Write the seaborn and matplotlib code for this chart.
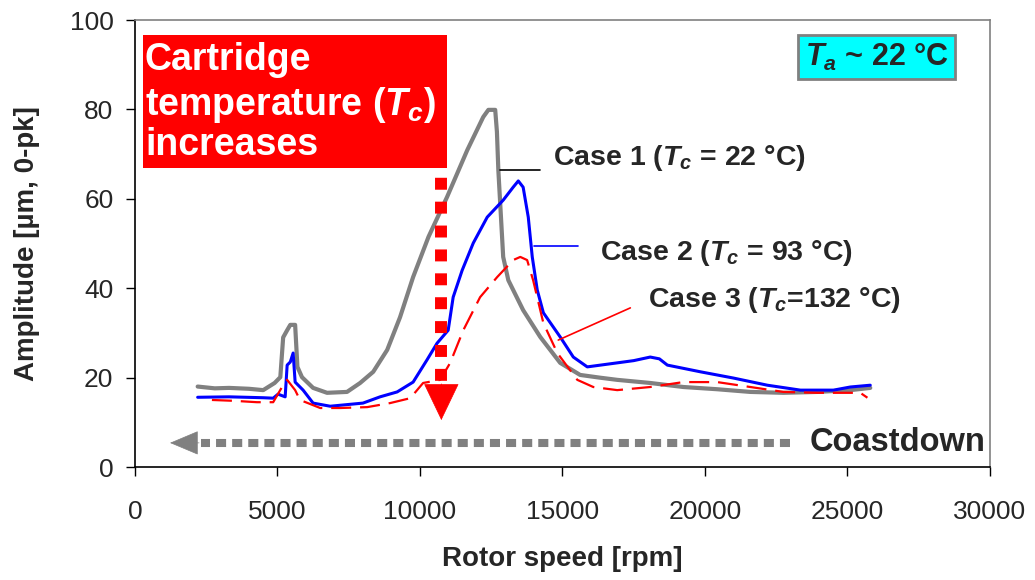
import matplotlib
matplotlib.use("Agg")
import matplotlib.pyplot as plt
from matplotlib.patches import Rectangle
import numpy as np
import pandas as pd
import seaborn as sns

# ---------------- data ----------------
case1_speed = [2200, 2800, 3300, 4000, 4500, 4900, 5100, 5200, 5340, 5450, 5620, 5700, 5860,
               6250, 6740, 7440, 7900, 8360, 8850, 9300, 9760, 10300, 10950, 11660, 12220,
               12400, 12640, 12700, 12750, 12920, 13100, 13620, 14220, 14920, 15620, 16300,
               16920, 18080, 19240, 20430, 21590, 22750, 23950, 25100, 25800]
case1_amp = [18.0, 17.6, 17.7, 17.5, 17.2, 18.8, 20.1, 29.0, 30.6, 31.8, 31.8, 22.4, 20.1,
             17.7, 16.6, 16.8, 18.8, 21.3, 26.2, 33.5, 42.5, 51.5, 60.4, 70.9, 78.3,
             79.9, 79.9, 75.0, 66.4, 47.0, 41.8, 35.1, 29.1, 23.3, 20.6, 20.0,
             19.5, 18.8, 17.9, 17.4, 16.8, 16.6, 16.8, 17.2, 17.7]

case2_speed = [2200, 3300, 4500, 4850, 5020, 5270, 5340, 5450, 5550, 5620, 5900, 6250, 6850,
               8000, 8600, 9200, 9760, 10250, 10600, 10990, 11165, 11480, 11870, 12360, 12920,
               13270, 13450, 13620, 13800, 13940, 14115, 14330, 14920, 15380, 15870, 16920,
               17500, 18080, 18400, 18680, 19840, 21000, 22190, 23350, 24510, 25100, 25800]
case2_amp = [15.6, 15.7, 15.5, 15.4, 16.3, 15.7, 22.8, 23.5, 25.5, 19.0, 17.2, 14.3, 13.6,
             14.3, 15.7, 16.8, 19.0, 24.0, 27.7, 30.6, 38.0, 44.0, 50.1, 55.9, 59.7,
             62.6, 64.0, 62.6, 55.9, 47.0, 39.6, 34.5, 29.1, 24.6, 22.4, 23.3,
             23.8, 24.6, 24.2, 22.8, 21.3, 19.9, 18.3, 17.2, 17.2, 17.9, 18.3]

case3_speed = [2700, 3500, 4280, 4850, 5160, 5340, 5620, 5790, 6500, 7200, 8150, 8950, 9660,
               10110, 10710, 11060, 11520, 12110, 12710, 13270, 13520, 13760, 13970, 14330,
               14820, 15520, 16080, 16920, 18080, 19240, 20430, 21590, 22750, 23950, 25450, 25700]
case3_amp = [15.0, 14.8, 14.5, 14.5, 17.9, 19.5, 17.2, 15.0, 13.2, 13.2, 13.4, 14.3, 15.4,
             18.8, 19.5, 23.3, 30.6, 38.0, 42.5, 46.3, 47.0, 46.3, 41.8, 32.2,
             25.5, 19.5, 17.9, 17.2, 17.9, 19.0, 19.0, 17.9, 16.8, 16.6, 16.6, 15.5]

case_labels = [r"Case 1 ($T_c$ = 22 °C)", r"Case 2 ($T_c$ = 93 °C)", r"Case 3 ($T_c$=132 °C)"]
x_ticks = [0, 5000, 10000, 15000, 20000, 25000, 30000]
y_ticks = [0, 20, 40, 60, 80, 100]

# ---------------- style ----------------
sns.set_theme(style="white")
plt.rcParams["font.family"] = ["Liberation Sans", "DejaVu Sans"]
plt.rcParams["mathtext.fontset"] = "custom"
plt.rcParams["mathtext.rm"] = "Liberation Sans:bold"
plt.rcParams["mathtext.it"] = "Liberation Sans:bold:italic"
plt.rcParams["mathtext.bf"] = "Liberation Sans:bold"

fig = plt.figure(figsize=(10.35, 5.8), dpi=100)
ax = fig.add_axes([0.1304, 0.1948, 0.8261, 0.7707])

df1 = pd.DataFrame({"speed": case1_speed, "amp": case1_amp})
df2 = pd.DataFrame({"speed": case2_speed, "amp": case2_amp})
df3 = pd.DataFrame({"speed": case3_speed, "amp": case3_amp})

sns.lineplot(data=df1, x="speed", y="amp", ax=ax, color="#808080", lw=3.0,
             sort=False, estimator=None, zorder=3)
sns.lineplot(data=df2, x="speed", y="amp", ax=ax, color="#0000FF", lw=2.2,
             sort=False, estimator=None, zorder=4)
sns.lineplot(data=df3, x="speed", y="amp", ax=ax, color="#FF0000", lw=1.6,
             sort=False, estimator=None, zorder=5)
ax.lines[-1].set_dashes((9, 4))

ax.set_xlim(0, 30000)
ax.set_ylim(0, 100)
ax.set_xticks(x_ticks)
ax.set_yticks(y_ticks)
ax.set_xticklabels([str(v) for v in x_ticks], fontsize=19)
ax.set_yticklabels([str(v) for v in y_ticks], fontsize=19)
ax.tick_params(axis="both", direction="out", length=6.5, width=1, color="black",
               left=True, bottom=True)
ax.tick_params(axis="y", pad=9)
ax.tick_params(axis="x", pad=17)
ax.set_xlabel("Rotor speed [rpm]", fontsize=20, fontweight="bold", labelpad=16)
ax.set_ylabel("Amplitude [µm, 0-pk]", fontsize=20, fontweight="bold", labelpad=21)

for s in ["top", "right"]:
    ax.spines[s].set_color("#808080")
    ax.spines[s].set_linewidth(1.2)
for s in ["left", "bottom"]:
    ax.spines[s].set_color("black")
    ax.spines[s].set_linewidth(1.2)

# ---------------- annotations ----------------
# red box with text
ax.add_patch(Rectangle((281, 66.9), 10674, 29.7, facecolor="#FF0000", edgecolor="none", zorder=6))
ax.text(351, 91.05, "Cartridge", color="white", fontsize=27, fontweight="bold", va="center", ha="left", zorder=7)
ax.text(351, 81.0, r"temperature ($T_c$)", color="white", fontsize=27, fontweight="bold", va="center", ha="left", zorder=7)
ax.text(351, 72.0, "increases", color="white", fontsize=27, fontweight="bold", va="center", ha="left", zorder=7)

# red dotted vertical arrow
ax.plot([10750, 10750], [75.5, 18.5], color="#FF0000", lw=8.6, dashes=(1, 1),
        solid_capstyle="butt", dash_capstyle="butt", zorder=6)
ax.annotate("", xy=(10750, 10.5), xytext=(10750, 18.6),
            arrowprops=dict(arrowstyle="-|>,head_length=25,head_width=12", mutation_scale=1,
                            color="#FF0000", lw=0.5, shrinkA=0, shrinkB=0), zorder=6)

# gray dotted horizontal arrow
ax.plot([23000, 2300], [5.4, 5.4], color="#808080", lw=5.8, dashes=(1.25, 0.75),
        dash_capstyle="butt", zorder=6)
ax.annotate("", xy=(1230, 5.4), xytext=(2250, 5.4),
            arrowprops=dict(arrowstyle="-|>,head_length=19,head_width=8", mutation_scale=1,
                            color="#808080", lw=0.5, shrinkA=0, shrinkB=0), zorder=6)
ax.text(29850, 5.4, "Coastdown", fontsize=23.5, fontweight="bold", ha="right", va="center", zorder=7)

# case labels with leader lines
ax.plot([12816, 14220], [66.4, 66.4], color="black", lw=1.2, zorder=6)
ax.text(14677, 69.1, case_labels[0], fontsize=20.5, fontweight="bold", ha="left", va="center", zorder=7)
ax.plot([14010, 15555], [49.4, 49.4], color="#0000FF", lw=1.2, zorder=6)
ax.text(16327, 47.9, case_labels[1], fontsize=20.5, fontweight="bold", ha="left", va="center", zorder=7)
ax.plot([14852, 17381], [28.4, 35.6], color="#FF0000", lw=1.2, zorder=6)
ax.text(18013, 37.4, case_labels[2], fontsize=20.5, fontweight="bold", ha="left", va="center", zorder=7)

# ambient temperature box
ax.text(26020, 91.7, r"$T_a$ ~ 22 °C", fontsize=22, fontweight="bold", ha="center", va="center",
        bbox=dict(boxstyle="square,pad=0.22", facecolor="#00FFFF", edgecolor="#808080", lw=2), zorder=7)

fig.savefig("out.png", dpi=100)
